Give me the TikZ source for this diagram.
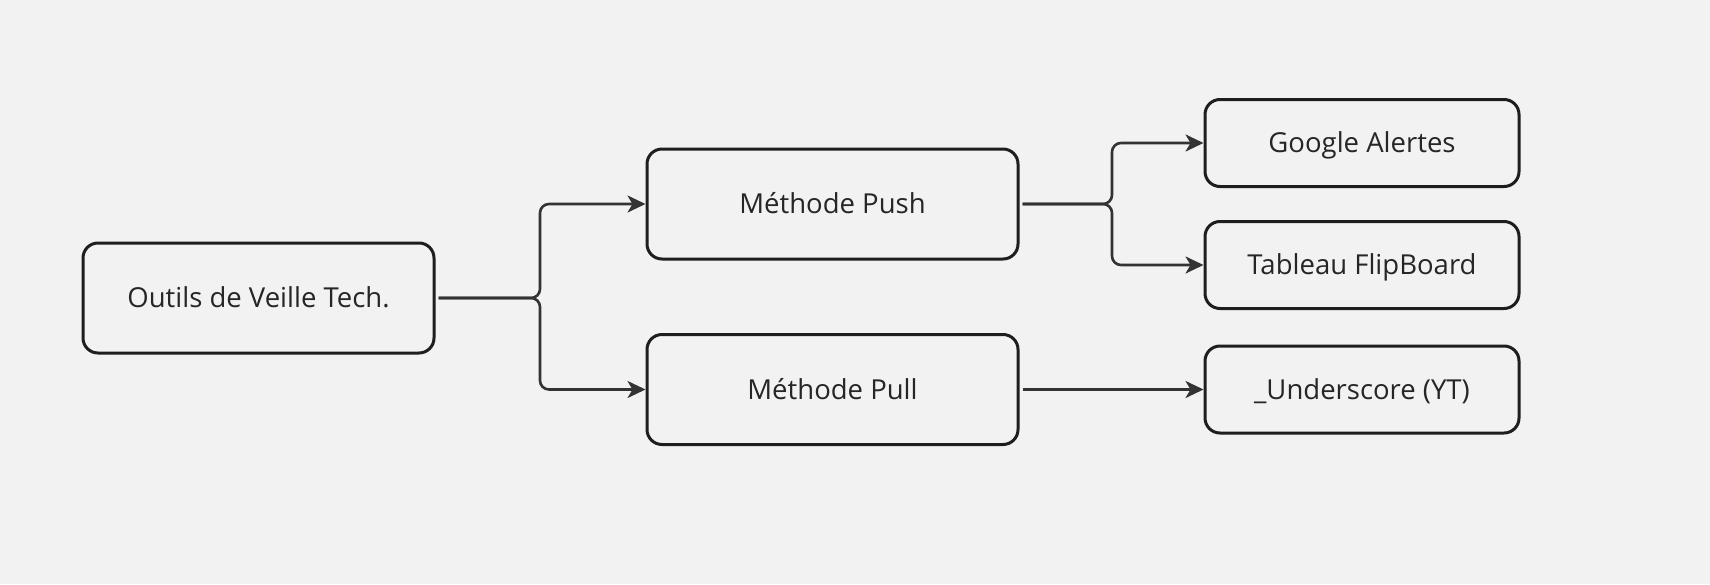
\documentclass[tikz,border=0pt]{standalone}
\usepackage{fontspec}
\setmainfont{Open Sans}
\usetikzlibrary{arrows.meta}
\definecolor{bg}{HTML}{F2F2F2}
\definecolor{edge}{HTML}{1E1E1E}
\definecolor{conn}{HTML}{333333}
\definecolor{txt}{HTML}{262626}
\tikzset{
  box/.style={draw=edge, line width=3pt, rounded corners=15pt, fill=bg, text=txt,
    font=\fontsize{27.5}{32}\selectfont, inner sep=0pt, anchor=center,
    text height=19.6pt, text depth=0pt},
  link/.style={draw=conn, line width=2.6pt, rounded corners=9pt,
    -{Stealth[length=18pt,width=17pt,inset=5pt]}}
}
\begin{document}
\begin{tikzpicture}[x=1pt,y=-1pt]
\fill[bg] (0,0) rectangle (1710,584);
\useasboundingbox (0,0) rectangle (1710,584);
\node[box, minimum width=351pt, minimum height=110pt] (root) at (258.5,298) {Outils de Veille Tech.};
\node[box, minimum width=371pt, minimum height=110pt] (push) at (832.5,204) {Méthode Push};
\node[box, minimum width=371pt, minimum height=110pt] (pull) at (832.5,389.5) {Méthode Pull};
\node[box, minimum width=314pt, minimum height=87pt] (google) at (1362,143) {Google Alertes};
\node[box, minimum width=314pt, minimum height=87pt] (flip) at (1362,265) {Tableau FlipBoard};
\node[box, minimum width=314pt, minimum height=87pt] (under) at (1362,389.5) {\_Underscore (YT)};
\draw[link] ([xshift=3pt]root.east) -- (540,298) |- (push.west);
\draw[link] ([xshift=3pt]root.east) -- (540,298) |- (pull.west);
\draw[link] ([xshift=3pt]push.east) -- (1112,204) |- (google.west);
\draw[link] ([xshift=3pt]push.east) -- (1112,204) |- (flip.west);
\draw[link] ([xshift=3pt]pull.east) -- (under.west);
\end{tikzpicture}
\end{document}
